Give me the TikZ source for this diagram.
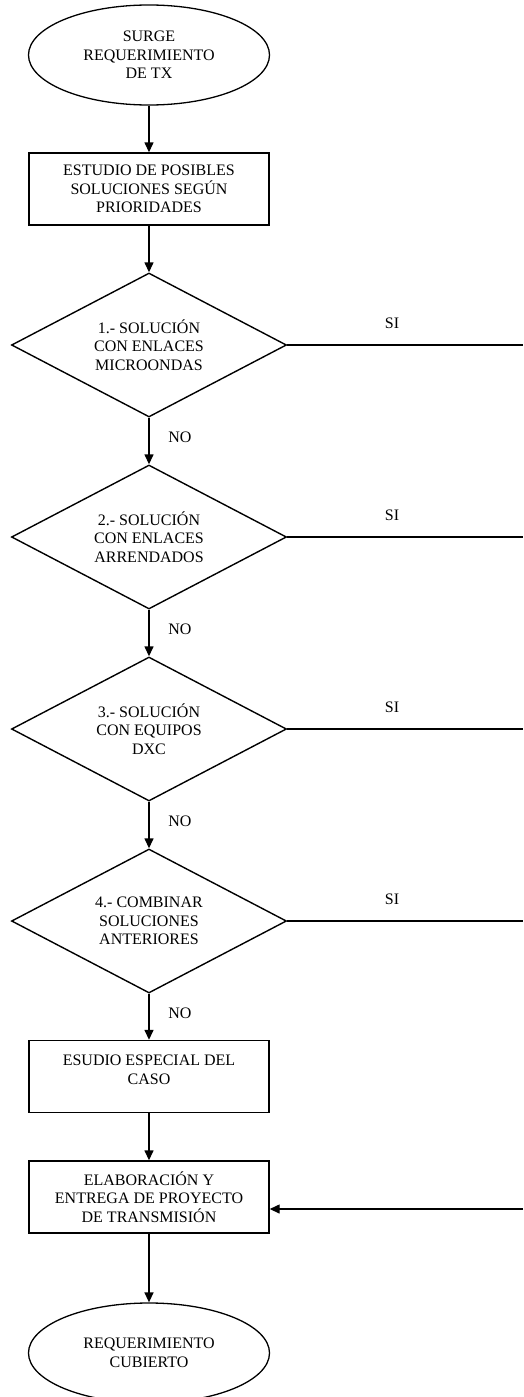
\documentclass[tikz,border=0pt]{standalone}
\usepackage{fontspec}
\setmainfont{Liberation Serif}
\usetikzlibrary{shapes.geometric,arrows.meta}

\begin{document}
\begin{tikzpicture}[x=1pt,y=-1pt,
  every node/.style={font=\fontsize{16}{18.5}\selectfont, align=center, inner sep=0pt},
  flowline/.style={line width=1.4pt},
  flowarrow/.style={flowline, -{Triangle[length=10pt,width=9pt]}},
  terminal/.style={ellipse, draw, line width=1.3pt, minimum width=241pt, minimum height=100pt},
  process/.style={rectangle, draw, line width=1.4pt, minimum width=240pt, minimum height=72pt},
  decision/.style={diamond, draw, line width=1.4pt, aspect=1.9, minimum width=275pt, minimum height=144pt}
]
% page frame
\clip (0,0) rectangle (523,1397);
\fill[white] (0,0) rectangle (523,1397);

% right edge where the side branches run
\coordinate (redge) at (523,0);
\coordinate (rin) at (523,1209);

% main column
\node[terminal] (start) at (149,55) {SURGE\\REQUERIMIENTO\\DE TX};
\node[process] (study) at (149,189) {ESTUDIO DE POSIBLES\\SOLUCIONES SEGÚN\\PRIORIDADES};
\node[decision] (d1) at (149,345) {1.- SOLUCIÓN\\CON ENLACES\\MICROONDAS};
\node[decision] (d2) at (149,537) {2.- SOLUCIÓN\\CON ENLACES\\ARRENDADOS};
\node[decision] (d3) at (149,729) {3.- SOLUCIÓN\\CON EQUIPOS\\DXC};
\node[decision] (d4) at (149,921) {4.- COMBINAR\\SOLUCIONES\\ANTERIORES};
\node[process] (special) at (149,1076.5) {};
\node (specialtxt) at (149,1070) {ESUDIO ESPECIAL DEL\\CASO};
\node[process] (project) at (149,1197) {ELABORACIÓN Y\\ENTREGA DE PROYECTO\\DE TRANSMISIÓN};
\node[terminal] (end) at (149,1353) {REQUERIMIENTO\\CUBIERTO};

% downward flow
\draw[flowarrow] (start) -- (study);
\draw[flowarrow] (study) -- (d1);
\draw[flowarrow] (d1) -- (d2);
\draw[flowarrow] (d2) -- (d3);
\draw[flowarrow] (d3) -- (d4);
\draw[flowarrow] (d4) -- (special);
\draw[flowarrow] (special) -- (project);
\draw[flowarrow] (project) -- (end);

% NO labels
\node (no1) at (180,437) {NO};
\node (no2) at (180,629) {NO};
\node (no3) at (180,821) {NO};
\node (no4) at (180,1013) {NO};

% SI branches
\foreach \d/\y in {d1/323,d2/515,d3/707,d4/899}{
  \draw[flowline] (\d.east) -- (\d.east -| redge);
  \node at (392,\y) {SI};
}

% return into the project box
\draw[flowarrow] (rin) -- (rin -| project.east);
\end{tikzpicture}
\end{document}
